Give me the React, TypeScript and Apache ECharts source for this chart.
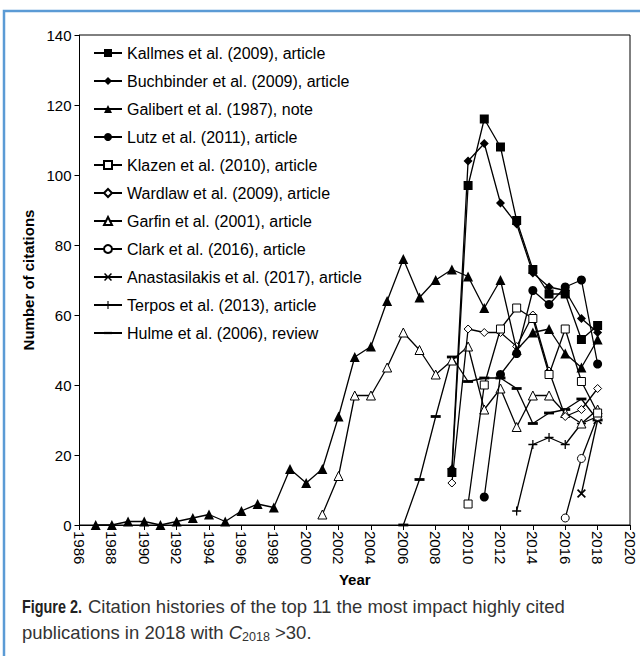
import React, { useEffect, useRef } from "react";
import * as echarts from "echarts";

// ---- data ----
const seriesNames = [
  "Kallmes et al. (2009), article",
  "Buchbinder et al. (2009), article",
  "Galibert et al. (1987), note",
  "Lutz et al. (2011), article",
  "Klazen et al. (2010), article",
  "Wardlaw et al. (2009), article",
  "Garfin et al. (2001), article",
  "Clark et al. (2016), article",
  "Anastasilakis et al. (2017), article",
  "Terpos et al. (2013), article",
  "Hulme et al. (2006), review",
];
const startYears = [2009, 2009, 1987, 2011, 2010, 2009, 2001, 2016, 2017, 2013, 2006];

const kallmes = [15, 97, 116, 108, 87, 73, 66, 66, 53, 57];
const buchbinder = [16, 104, 109, 92, 86, 72, 68, 67, 59, 55];
const galibert = [0, 0, 1, 1, 0, 1, 2, 3, 1, 4, 6, 5, 16, 12, 16, 31, 48, 51, 64, 76, 65, 70, 73, 71, 62, 70, 50, 55, 56, 49, 45, 53];
const lutz = [8, 43, 49, 67, 63, 68, 70, 46];
const klazen = [6, 40, 56, 62, 59, 43, 56, 41, 32];
const wardlaw = [12, 56, 55, 55, 51, 60, 44, 31, 33, 39];
const garfin = [3, 14, 37, 37, 45, 55, 50, 43, 47, 51, 33, 39, 28, 37, 37, 32, 29, 33];
const clark = [2, 19, 31];
const anastasilakis = [9, 30];
const terpos = [4, 23, 25, 23, 29, 31];
const hulme = [0, 13, 31, 48, 41, 42, 42, 39, 29, 32, 33, 36, 30];

const seriesValues = [kallmes, buchbinder, galibert, lutz, klazen, wardlaw, garfin, clark, anastasilakis, terpos, hulme];

const xMin = 1986;
const xMax = 2020;
const xStep = 2;
const yMin = 0;
const yMax = 140;
const yStep = 20;

// ---- styles ----
const PLUS = "path://M4.3,0H5.7V4.3H10V5.7H5.7V10H4.3V5.7H0V4.3H4.3Z";
const CROSS =
  "path://M1.99,9.07L5,6.06L8,9.07L9.07,8L6.06,5L9.07,2L8,0.93L5,3.94L2,0.93L0.93,2L3.94,5L0.93,8Z";
const DASH = "path://M0,0M10,10M0,3.6H10V6.4H0Z";

type Mk = { symbol: string; size: number; open: boolean };
const markers: Mk[] = [
  { symbol: "rect", size: 9, open: false },
  { symbol: "diamond", size: 9, open: false },
  { symbol: "triangle", size: 10, open: false },
  { symbol: "circle", size: 9, open: false },
  { symbol: "rect", size: 8, open: true },
  { symbol: "diamond", size: 8, open: true },
  { symbol: "triangle", size: 9, open: true },
  { symbol: "circle", size: 8, open: true },
  { symbol: CROSS, size: 9, open: false },
  { symbol: PLUS, size: 9, open: false },
  { symbol: DASH, size: 10, open: false },
];

const FONT = "'Liberation Sans', Arial, sans-serif";

export default function App() {
  const ref = useRef<HTMLDivElement>(null);
  useEffect(() => {
    if (!ref.current) return;
    const chart = echarts.init(ref.current, undefined, { renderer: "svg" });
    const series = seriesNames.map((name, si) => {
      const mk = markers[si];
      return {
        name,
        type: "line",
        data: seriesValues[si].map((v, i) => [startYears[si] + i, v]),
        symbol: mk.symbol,
        symbolSize: mk.size,
        showSymbol: true,
        lineStyle: { color: "#000", width: 1.3 },
        itemStyle: mk.open
          ? { color: "#fff", borderColor: "#000", borderWidth: 1 }
          : { color: "#000", borderColor: "#000", borderWidth: 0 },
        emphasis: { disabled: true },
        z: 2 + (seriesNames.length - si),
      };
    });
    chart.setOption({
      animation: false,
      backgroundColor: "#fff",
      textStyle: { fontFamily: FONT, color: "#000" },
      grid: {
        left: 79.5,
        right: 10,
        top: 35,
        bottom: 131,
        show: true,
        borderColor: "#000",
        borderWidth: 1,
        backgroundColor: "transparent",
      },
      legend: {
        orient: "vertical",
        left: 88,
        top: 40,
        itemWidth: 28,
        itemHeight: 10,
        itemGap: 12,
        selectedMode: false,
        textStyle: { fontFamily: FONT, fontSize: 16, color: "#000" },
        data: seriesNames,
      },
      xAxis: {
        type: "value",
        min: xMin,
        max: xMax,
        interval: xStep,
        name: "Year",
        nameLocation: "middle",
        nameGap: 46,
        nameTextStyle: { fontFamily: FONT, fontSize: 15, fontWeight: "bold", color: "#000" },
        axisLine: { show: true, lineStyle: { color: "#000", width: 1 } },
        axisTick: { show: true, inside: false, length: 5, lineStyle: { color: "#000" } },
        axisLabel: {
          rotate: -90,
          margin: 6,
          fontFamily: FONT,
          fontSize: 15,
          color: "#000",
          formatter: (v: number) => String(v),
        },
        splitLine: { show: false },
      },
      yAxis: {
        type: "value",
        min: yMin,
        max: yMax,
        interval: yStep,
        name: "Number of citations",
        nameLocation: "middle",
        nameRotate: 90,
        nameGap: 43,
        nameTextStyle: { fontFamily: FONT, fontSize: 15, fontWeight: "bold", color: "#000" },
        axisLine: { show: true, lineStyle: { color: "#000", width: 1 } },
        axisTick: { show: true, inside: false, length: 5, lineStyle: { color: "#000" } },
        axisLabel: { margin: 8, fontFamily: FONT, fontSize: 15, color: "#000" },
        splitLine: { show: false },
      },
      graphic: [
        {
          type: "rect",
          shape: { x: 4, y: 11, width: 700, height: 700 },
          style: { fill: "none", stroke: "#5b9bd5", lineWidth: 2.5 },
          z: 100,
          silent: true,
        },
        {
          type: "text",
          x: 22,
          y: 597,
          scaleX: 0.8,
          style: {
            text: "Figure 2.",
            fontFamily: FONT,
            fontWeight: "bold",
            fontSize: 18,
            fill: "#222",
          },
        },
        {
          type: "text",
          x: 88,
          y: 597,
          style: {
            text: "Citation histories of the top 11 the most impact highly cited",
            fontFamily: FONT,
            fontSize: 18.5,
            fill: "#333",
          },
        },
        {
          type: "text",
          x: 22,
          y: 622,
          style: {
            text: "{n|publications in 2018 with }{i|C}{s|2018}{n| >30.}",
            fontFamily: FONT,
            fontSize: 18.5,
            fill: "#333",
            rich: {
              n: { fontFamily: FONT, fontSize: 18.5, lineHeight: 21, verticalAlign: "middle", fill: "#333" },
              i: { fontFamily: FONT, fontSize: 18.5, fontStyle: "italic", lineHeight: 21, verticalAlign: "middle", fill: "#333" },
              s: { fontFamily: FONT, fontSize: 12.5, lineHeight: 12, verticalAlign: "bottom", fill: "#333" },
            },
          },
        },
      ],
      series,
    });
    return () => chart.dispose();
  }, []);
  return (
    <div
      ref={ref}
      style={{ position: "fixed", left: 0, top: 0, width: 640, height: 656, background: "#fff" }}
    />
  );
}
